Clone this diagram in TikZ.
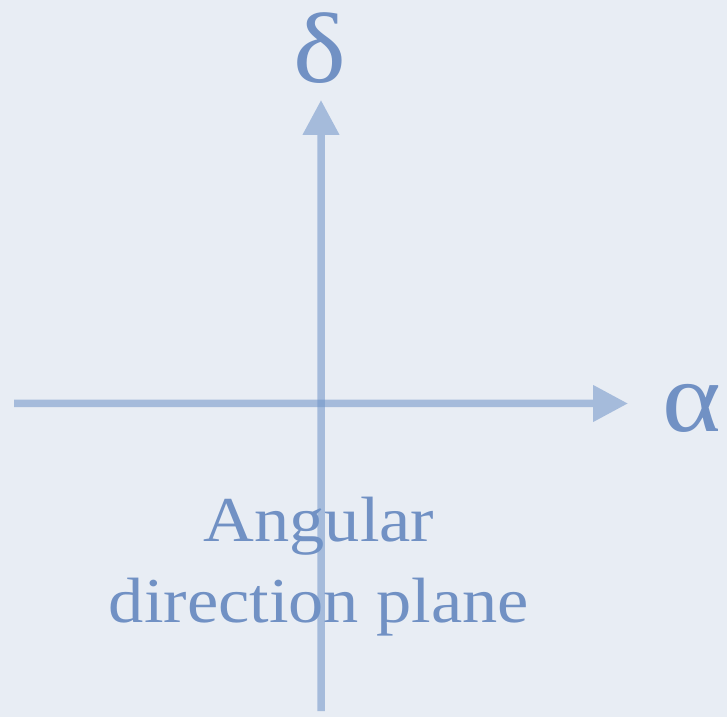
\documentclass[tikz,border=0pt]{standalone}
\usepackage{fontspec}
\setmainfont{Liberation Serif}
\usetikzlibrary{arrows.meta}
\definecolor{bgc}{HTML}{E8EDF4}
\definecolor{axisc}{HTML}{6E93C8}
\definecolor{txtc}{HTML}{7191C4}
\tikzset{
  axisline/.style={line width=7.5pt, draw=axisc, -{Triangle[length=35pt,width=35pt]}},
  greek/.style={text=txtc, font=\fontsize{100}{110}\addfontfeatures{FakeStretch=1.12}, inner sep=0pt, anchor=base},
  caption/.style={text=txtc, font=\fontsize{64}{80}\addfontfeatures{FakeStretch=1.1}, inner sep=0pt, anchor=base}
}
\begin{document}
\begin{tikzpicture}[x=1pt,y=1pt]
\fill[bgc] (0,0) rectangle (727,717);
\useasboundingbox (0,0) rectangle (727,717);
\node[greek] (delta) at (320,634) {δ};
\node[greek] (alpha) at (692,285) {α};
\node[caption] (cap1) at (319,175) {Angular};
\node[caption] (cap2) at (319,95) {direction plane};
\coordinate (xl) at (14,313.5);
\coordinate (xr) at (628,313.5);
\coordinate (yb) at (321,6);
\coordinate (yt) at (321,617);
\begin{scope}[transparency group, opacity=0.55]
\draw[axisline] (xl) -- (xr);
\end{scope}
\begin{scope}[transparency group, opacity=0.55]
\draw[axisline] (yb) -- (yt);
\end{scope}
\end{tikzpicture}
\end{document}
